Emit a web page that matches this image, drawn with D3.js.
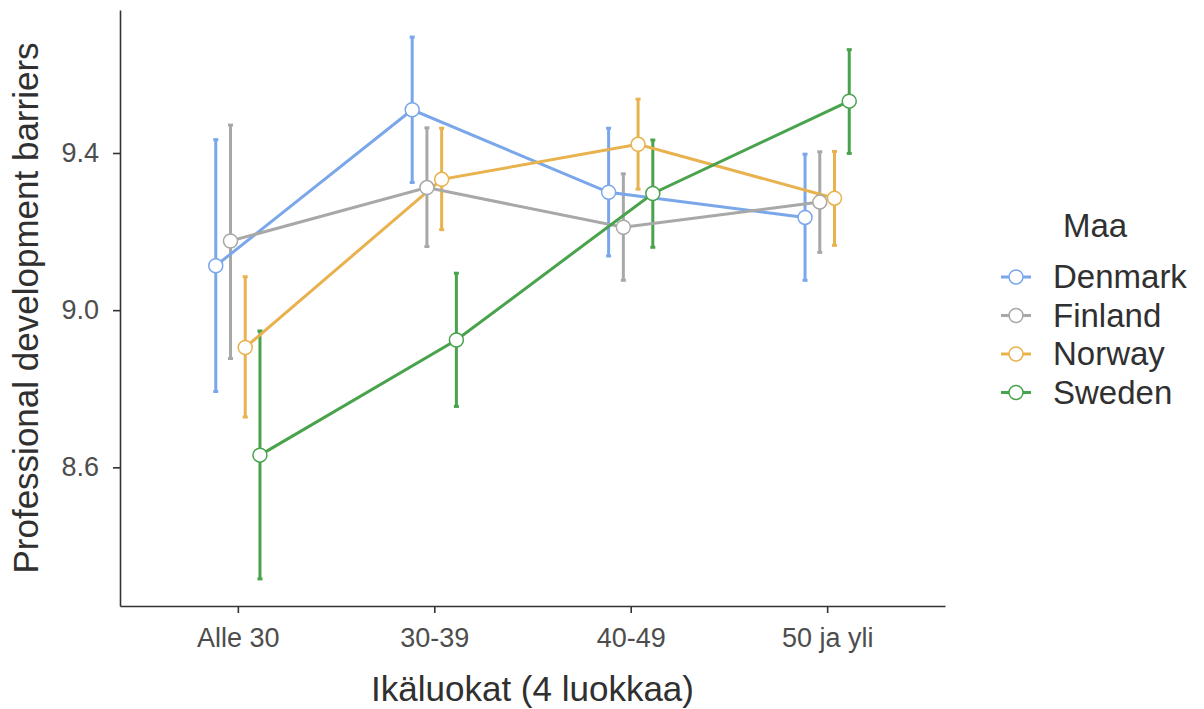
<!DOCTYPE html>
<html>
<head>
<meta charset="utf-8">
<script src="https://cdn.jsdelivr.net/npm/d3@7"></script>
<style>
  body { margin: 0; background: #fff; }
  svg { font-family: "Liberation Sans", Arial, sans-serif; }
</style>
</head>
<body>
<svg id="chart" width="1204" height="709"></svg>
<script>
let categories = ["Alle 30", "30-39", "40-49", "50 ja yli"];
let countries = ["Denmark", "Finland", "Norway", "Sweden"];
let colours = ["#7aa6ea", "#a8a8a8", "#e8b24e", "#49a24c"];

// means and error bar ends, one value per age class
let denmarkMean = [9.113, 9.51, 9.3, 9.236];
let denmarkLow = [8.793, 9.325, 9.138, 9.076];
let denmarkHigh = [9.434, 9.695, 9.463, 9.397];

let finlandMean = [9.176, 9.312, 9.211, 9.275];
let finlandLow = [8.877, 9.162, 9.076, 9.147];
let finlandHigh = [9.471, 9.464, 9.347, 9.403];

let norwayMean = [8.905, 9.333, 9.422, 9.285];
let norwayLow = [8.728, 9.205, 9.308, 9.165];
let norwayHigh = [9.085, 9.463, 9.537, 9.404];

let swedenMean = [8.631, 8.924, 9.297, 9.532];
let swedenLow = [8.316, 8.755, 9.16, 9.399];
let swedenHigh = [8.947, 9.094, 9.433, 9.663];

let yTicks = [8.6, 9.0, 9.4];

let means = [denmarkMean, finlandMean, norwayMean, swedenMean];
let lows = [denmarkLow, finlandLow, norwayLow, swedenLow];
let highs = [denmarkHigh, finlandHigh, norwayHigh, swedenHigh];

let series = countries.map((name, i) => ({
  name: name,
  colour: colours[i],
  index: i,
  points: categories.map((cat, j) => ({
    cat: cat,
    mean: means[i][j],
    low: lows[i][j],
    high: highs[i][j],
  })),
}));

let svg = d3.select("#chart");
let plotLeft = 120, plotRight = 945, plotTop = 10, plotBottom = 606;

let x = d3.scalePoint().domain(categories).range([plotLeft, plotRight]).padding(0.6);

// ggplot style 5% expansion around the data range
let allValues = lows.flat().concat(highs.flat());
let ext = d3.extent(allValues);
let pad = (ext[1] - ext[0]) * 0.05;
let y = d3.scaleLinear().domain([ext[0] - pad, ext[1] + pad]).range([plotBottom, plotTop]);

let dodge = 0.3 * x.step();
let xPos = (d, i) => x(d.cat) + dodge * ((i + 0.5) / countries.length - 0.5);

// axes
let xAxis = svg.append("g")
  .attr("transform", `translate(0,${plotBottom})`)
  .call(d3.axisBottom(x).tickSize(7).tickPadding(15).tickSizeOuter(0));

let yAxis = svg.append("g")
  .attr("transform", `translate(${plotLeft},0)`)
  .call(d3.axisLeft(y).tickValues(yTicks).tickFormat(d3.format(".1f")).tickSize(7).tickPadding(14).tickSizeOuter(0));

[xAxis, yAxis].forEach((axis) => {
  axis.select(".domain").attr("stroke", "#333").attr("stroke-width", 1.6);
  axis.selectAll(".tick line").attr("stroke", "#333").attr("stroke-width", 1.6);
  axis.selectAll(".tick text").attr("fill", "#4d4d4d").style("font-size", "27px").style("font-family", "Liberation Sans, Arial, sans-serif");
});

// error bars
let bars = svg.append("g");
series.forEach((s) => {
  bars.selectAll(null)
    .data(s.points)
    .enter()
    .append("line")
    .attr("x1", (d) => xPos(d, s.index))
    .attr("x2", (d) => xPos(d, s.index))
    .attr("y1", (d) => y(d.low))
    .attr("y2", (d) => y(d.high))
    .attr("stroke", s.colour)
    .attr("stroke-width", 3);

  ["low", "high"].forEach((k) => {
    bars.selectAll(null)
      .data(s.points)
      .enter()
      .append("line")
      .attr("x1", (d) => xPos(d, s.index) - 2.5)
      .attr("x2", (d) => xPos(d, s.index) + 2.5)
      .attr("y1", (d) => y(d[k]))
      .attr("y2", (d) => y(d[k]))
      .attr("stroke", s.colour)
      .attr("stroke-width", 3);
  });
});

// lines
let line = d3.line()
  .x((d) => d.px)
  .y((d) => y(d.mean));

series.forEach((s) => {
  let pts = s.points.map((d) => Object.assign({ px: xPos(d, s.index) }, d));
  svg.append("path")
    .datum(pts)
    .attr("d", line)
    .attr("fill", "none")
    .attr("stroke", s.colour)
    .attr("stroke-width", 3);
});

// points
series.forEach((s) => {
  svg.append("g")
    .selectAll("circle")
    .data(s.points)
    .enter()
    .append("circle")
    .attr("cx", (d) => xPos(d, s.index))
    .attr("cy", (d) => y(d.mean))
    .attr("r", 7)
    .attr("fill", "#fff")
    .attr("stroke", s.colour)
    .attr("stroke-width", 1.5);
});

// axis titles
svg.append("text")
  .attr("x", (plotLeft + plotRight) / 2)
  .attr("y", 701)
  .attr("text-anchor", "middle")
  .attr("fill", "#303030")
  .style("font-size", "35px")
  .text("Ikäluokat (4 luokkaa)");

svg.append("text")
  .attr("transform", `translate(38,${(plotTop + plotBottom) / 2}) rotate(-90)`)
  .attr("text-anchor", "middle")
  .attr("fill", "#303030")
  .style("font-size", "35px")
  .text("Professional development barriers");

// legend
let legend = svg.append("g").attr("transform", "translate(1001,0)");

legend.append("text")
  .attr("x", 62)
  .attr("y", 237)
  .attr("fill", "#303030")
  .style("font-size", "33px")
  .text("Maa");

let item = legend.selectAll(".item")
  .data(series)
  .enter()
  .append("g")
  .attr("class", "item")
  .attr("transform", (d, i) => `translate(0,${277 + i * 38.5})`);

item.append("line")
  .attr("x1", 0)
  .attr("x2", 30)
  .attr("stroke", (d) => d.colour)
  .attr("stroke-width", 3);

item.append("circle")
  .attr("cx", 15)
  .attr("r", 7)
  .attr("fill", "#fff")
  .attr("stroke", (d) => d.colour)
  .attr("stroke-width", 1.5);

item.append("text")
  .attr("x", 52)
  .attr("y", 11)
  .attr("fill", "#303030")
  .style("font-size", "33px")
  .text((d) => d.name);
</script>
</body>
</html>
